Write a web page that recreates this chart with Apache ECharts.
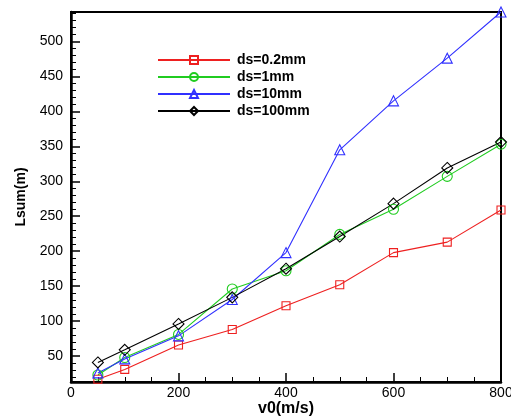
<!DOCTYPE html>
<html>
<head>
<meta charset="utf-8">
<script src="https://cdn.jsdelivr.net/npm/echarts@6/dist/echarts.min.js"></script>
<style>
  html, body { margin: 0; padding: 0; background: #fff; }
  #chart { width: 511px; height: 419px; }
</style>
</head>
<body>
<div id="chart"></div>
<script>
// velocity v0 (m/s) on x, total length Lsum (m) on y
const v0 = [50, 100, 200, 300, 400, 500, 600, 700, 800];
const ds02 = [17, 31, 66, 88, 122, 152, 198, 213, 259];
const ds1 = [23, 48, 81, 146, 172, 224, 260, 307, 353];
const ds10 = [26, 46, 79, 131, 198, 345, 415, 476, 542];
const ds100 = [41, 59, 96, 134, 175, 221, 268, 319, 356];

const yMajor = [50, 100, 150, 200, 250, 300, 350, 400, 450, 500];
const yMinor = [20, 30, 40, 60, 70, 80, 90, 110, 120, 130, 140, 160, 170, 180, 190,
  210, 220, 230, 240, 260, 270, 280, 290, 310, 320, 330, 340, 360, 370, 380, 390,
  410, 420, 430, 440, 460, 470, 480, 490, 510, 520, 530, 540];

const FONT = "'Liberation Sans', Arial, sans-serif";
const Y_MIN = 13;
const Y_MAX = 542;

const pairs = (ys) => v0.map((x, i) => [x, ys[i]]);

// hollow markers, thin outline like the original plot
const makeSeries = (name, ys, color, symbol, size) => ({
  name: name,
  type: "line",
  data: pairs(ys),
  symbol: symbol,
  symbolSize: size,
  clip: false,
  lineStyle: { color: color, width: 1.1 },
  itemStyle: { color: "rgba(255,255,255,0)", borderColor: color, borderWidth: 1.1 },
  emphasis: { disabled: true },
});

const chart = echarts.init(document.getElementById("chart"));
chart.setOption({
  animation: false,
  grid: {
    left: 71, right: 10, top: 12, bottom: 37,
    outerBoundsMode: "none",
    containLabel: false,
    show: true, borderColor: "#000", borderWidth: 2,
  },
  legend: {
    orient: "vertical",
    left: 152,
    top: 48,
    itemWidth: 72,
    itemHeight: 10,
    itemGap: 3,
    textStyle: { fontFamily: FONT, fontWeight: "bold", fontSize: 14, color: "#000", lineHeight: 14, padding: [0, 0, 0, 2] },
    data: ["ds=0.2mm", "ds=1mm", "ds=10mm", "ds=100mm"],
  },
  xAxis: {
    type: "value",
    min: 0,
    max: 800,
    interval: 200,
    name: "v0(m/s)",
    nameLocation: "middle",
    nameGap: 19,
    nameMoveOverlap: false,
    nameTextStyle: { fontFamily: FONT, fontWeight: "bold", fontSize: 16, color: "#000" },
    axisLine: { lineStyle: { color: "#000", width: 2.5 } },
    axisTick: { inside: true, length: 9, lineStyle: { color: "#000", width: 1.5 } },
    minorTick: { show: true, splitNumber: 4, length: 5, lineStyle: { color: "#000", width: 1 } },
    axisLabel: { fontFamily: FONT, fontSize: 14, color: "#000", margin: 4 },
    splitLine: { show: false },
  },
  yAxis: [
    {
      type: "value",
      min: Y_MIN,
      max: Y_MAX,
      name: "Lsum(m)",
      nameLocation: "middle",
      nameGap: 43,
      nameMoveOverlap: false,
      nameTextStyle: { fontFamily: FONT, fontWeight: "bold", fontSize: 14, color: "#000" },
      axisLine: { lineStyle: { color: "#000", width: 2.5 } },
      axisTick: { inside: true, length: 9, customValues: yMajor, lineStyle: { color: "#000", width: 1.5 } },
      axisLabel: { fontFamily: FONT, fontSize: 14, color: "#000", margin: 8, customValues: yMajor },
      splitLine: { show: false },
    },
    {
      // minor ticks only
      type: "value",
      min: Y_MIN,
      max: Y_MAX,
      position: "left",
      axisLine: { show: false },
      axisTick: { inside: true, length: 5, customValues: yMinor, lineStyle: { color: "#000", width: 1 } },
      axisLabel: { show: false },
      splitLine: { show: false },
    },
  ],
  series: [
    makeSeries("ds=0.2mm", ds02, "#ee2020", "rect", 8),
    makeSeries("ds=1mm", ds1, "#20cc20", "circle", 10),
    makeSeries("ds=10mm", ds10, "#3030ff", "triangle", 10),
    makeSeries("ds=100mm", ds100, "#000000", "diamond", 11),
  ],
});
</script>
</body>
</html>
